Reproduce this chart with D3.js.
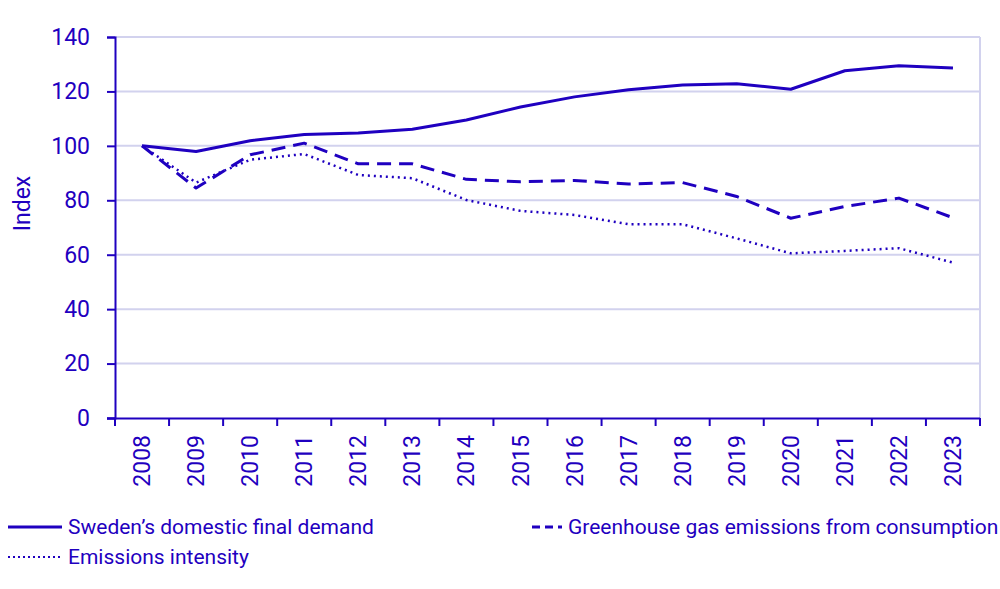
<!DOCTYPE html>
<html>
<head>
<meta charset="utf-8">
<script src="https://cdn.jsdelivr.net/npm/d3@7"></script>
<style>
  body { margin: 0; background: #fff; }
  text { font-family: Roboto, "Noto Sans", sans-serif; fill: #1f00c0; }
</style>
</head>
<body>
<div id="chart"></div>
<script>
const years = ["2008","2009","2010","2011","2012","2013","2014","2015","2016","2017","2018","2019","2020","2021","2022","2023"];
const demand    = [100, 97.9, 101.9, 104.2, 104.7, 106.1, 109.5, 114.3, 118.0, 120.6, 122.4, 122.8, 120.8, 127.6, 129.4, 128.6];
const emissions = [100, 84.5, 96.7, 101.0, 93.4, 93.4, 87.7, 86.8, 87.3, 86.0, 86.5, 81.4, 73.4, 77.7, 80.8, 73.6];
const intensity = [100, 86.5, 94.9, 97.0, 89.3, 88.1, 80.1, 76.1, 74.6, 71.2, 71.2, 66.0, 60.5, 61.4, 62.4, 57.1];
const yTicks = [0, 20, 40, 60, 80, 100, 120, 140];

const series = [
  { name: "Sweden\u2019s domestic final demand", values: demand, dash: null },
  { name: "Greenhouse gas emissions from consumption", values: emissions, dash: "14,8" },
  { name: "Emissions intensity", values: intensity, dash: "2,4" }
];

const width = 1000, height = 589;
const color = "#1f00c0", grid = "#d2d2ee";
const margin = { left: 115, right: 20, top: 37, bottom: 171 };

const svg = d3.select("#chart").append("svg")
  .attr("width", width).attr("height", height);

const x = d3.scaleBand().domain(years).range([margin.left, width - margin.right]);
const y = d3.scaleLinear().domain([0, 140]).range([height - margin.bottom, margin.top]);

// gridlines
svg.append("g").selectAll("line")
  .data(yTicks.slice(1))
  .join("line")
  .attr("x1", margin.left).attr("x2", width - margin.right)
  .attr("y1", d => y(d)).attr("y2", d => y(d))
  .attr("stroke", grid).attr("stroke-width", 2);
svg.append("line")
  .attr("x1", width - margin.right).attr("x2", width - margin.right)
  .attr("y1", margin.top).attr("y2", y(0))
  .attr("stroke", grid).attr("stroke-width", 2);

// y axis
const yAxis = svg.append("g")
  .attr("transform", `translate(${margin.left},0)`)
  .call(d3.axisLeft(y).tickValues(yTicks).tickSize(8).tickPadding(17));
yAxis.select(".domain").attr("stroke", color).attr("stroke-width", 2);
yAxis.selectAll(".tick line").attr("stroke", color).attr("stroke-width", 2);
yAxis.selectAll(".tick text").attr("font-size", 23).attr("fill", color)
  .attr("font-family", "Roboto, sans-serif");

// x axis
const xAxis = svg.append("g")
  .attr("transform", `translate(0,${y(0)})`)
  .call(d3.axisBottom(x).tickSize(0));
xAxis.select(".domain").attr("stroke", color).attr("stroke-width", 2)
  .attr("d", `M${margin.left - 8},0.5H${width - margin.right}`);
xAxis.selectAll(".tick text")
  .attr("font-size", 23).attr("fill", color)
  .attr("font-family", "Roboto, sans-serif")
  .attr("transform", "rotate(-90)")
  .attr("text-anchor", "end")
  .attr("x", -17).attr("y", 0).attr("dy", "0.35em");
svg.append("g").selectAll("line")
  .data(years.concat(["end"]))
  .join("line")
  .attr("x1", (d, i) => margin.left + i * x.bandwidth())
  .attr("x2", (d, i) => margin.left + i * x.bandwidth())
  .attr("y1", y(0)).attr("y2", y(0) + 8)
  .attr("stroke", color).attr("stroke-width", 2);

svg.append("text")
  .attr("transform", `translate(30,${(margin.top + y(0)) / 2 - 24}) rotate(-90)`)
  .attr("text-anchor", "middle")
  .attr("font-size", 23)
  .text("Index");

// lines
const line = d3.line()
  .x((d, i) => x(years[i]) + x.bandwidth() / 2)
  .y(d => y(d));

svg.append("g").selectAll("path")
  .data(series)
  .join("path")
  .attr("d", d => line(d.values))
  .attr("fill", "none")
  .attr("stroke", color)
  .attr("stroke-width", d => d.dash === "2,4" ? 2.5 : 3)
  .attr("stroke-dasharray", d => d.dash)
  .attr("stroke-linejoin", "round");

// legend
const legendPos = [[8, 527], [532, 527], [8, 557]];
const legend = svg.append("g").selectAll("g")
  .data(series)
  .join("g")
  .attr("transform", (d, i) => `translate(${legendPos[i][0]},${legendPos[i][1]})`);
legend.append("line")
  .attr("x1", 0)
  .attr("x2", d => d.dash === "14,8" ? 30 : 54)
  .attr("stroke", color)
  .attr("stroke-width", d => d.dash === "2,4" ? 2 : 3)
  .attr("stroke-dasharray", d => d.dash === "14,8" ? "8,5" : d.dash === "2,4" ? "2,3" : null);
legend.append("text")
  .attr("x", d => d.dash === "14,8" ? 36 : 60)
  .attr("dy", "0.35em")
  .attr("font-size", 21)
  .text(d => d.name);
</script>
</body>
</html>
